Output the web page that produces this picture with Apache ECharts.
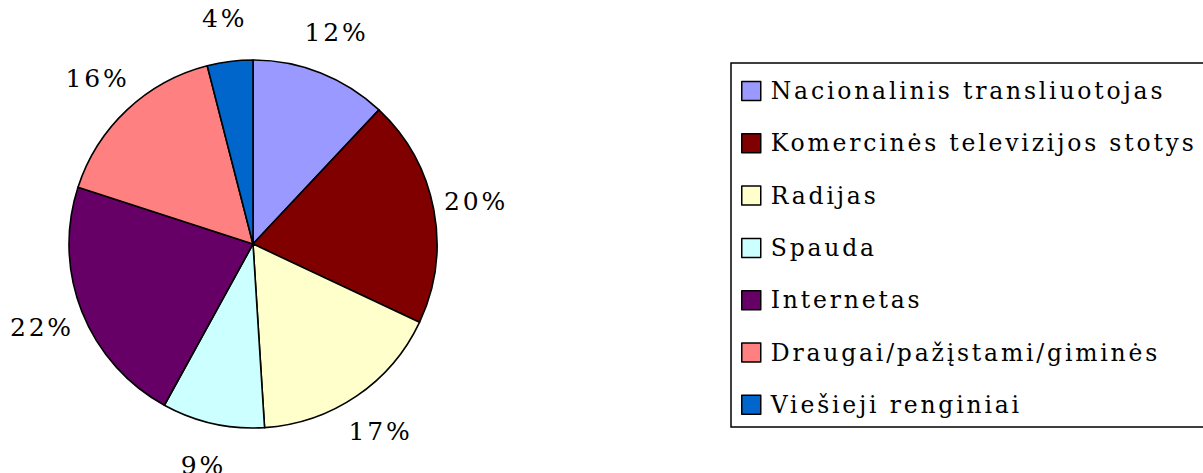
<!DOCTYPE html>
<html>
<head>
    <meta charset="utf-8">
    <title>Pie</title>
    <script src="https://cdn.jsdelivr.net/npm/echarts@6/dist/echarts.min.js"></script>
    <style>
        html, body { margin: 0; padding: 0; background: #fff; }
        #chart-box text { letter-spacing: 2.8px; }
    </style>
</head>
<body>
<div id="chart-box" style="width:1203px; height:473px;"></div>
<script type="text/javascript">
    const names = [
        "Nacionalinis transliuotojas",
        "Komercinės televizijos stotys",
        "Radijas",
        "Spauda",
        "Internetas",
        "Draugai/pažįstami/giminės",
        "Viešieji renginiai"
    ];
    const values = [12, 20, 17, 9, 22, 16, 4];
    const colors = ["#9999FF", "#800000", "#FFFFCC", "#CCFFFF", "#660066", "#FF8080", "#0066CC"];

    const center = [253, 244];
    const radius = 184;
    const labelDist = 227;
    const total = values.reduce((a, b) => a + b, 0);

    // mid angle of each slice (clockwise from 12 o'clock)
    const midAngles = [];
    let acc = 0;
    values.forEach(v => {
        midAngles.push((acc + v / 2) / total * Math.PI * 2);
        acc += v;
    });

    const chart = echarts.init(document.getElementById("chart-box"), null, { renderer: "svg" });
    const font = "'DejaVu Serif', serif";

    const option = {
        animation: false,
        color: colors,
        legend: {
            orient: "vertical",
            left: 741,
            top: 79,
            padding: 0,
            icon: "rect",
            itemWidth: 19,
            itemHeight: 19,
            itemGap: 28.3,
            itemStyle: { borderColor: "#000", borderWidth: 1.5 },
            textStyle: { fontFamily: font, fontSize: 23.5, color: "#000", lineHeight: 23, padding: [0, 0, 0, 5] },
            data: names
        },
        graphic: [{
            type: "rect",
            shape: { x: 731, y: 63, width: 600, height: 364 },
            style: { fill: "none", stroke: "#000", lineWidth: 1.5 },
            silent: true
        }],
        series: [{
            type: "pie",
            center: center,
            radius: radius,
            startAngle: 90,
            clockwise: true,
            avoidLabelOverlap: false,
            itemStyle: { borderColor: "#000", borderWidth: 1.6 },
            label: {
                show: true,
                formatter: p => p.value + "%",
                fontFamily: font,
                fontSize: 25,
                color: "#000"
            },
            labelLine: { show: false },
            labelLayout: p => {
                const a = midAngles[p.dataIndex];
                return {
                    x: center[0] + labelDist * Math.sin(a),
                    y: center[1] - labelDist * Math.cos(a),
                    align: "center",
                    verticalAlign: "middle"
                };
            },
            emphasis: { disabled: true },
            data: names.map((n, i) => ({ name: n, value: values[i] }))
        }]
    };
    chart.setOption(option);
</script>
</body>
</html>
